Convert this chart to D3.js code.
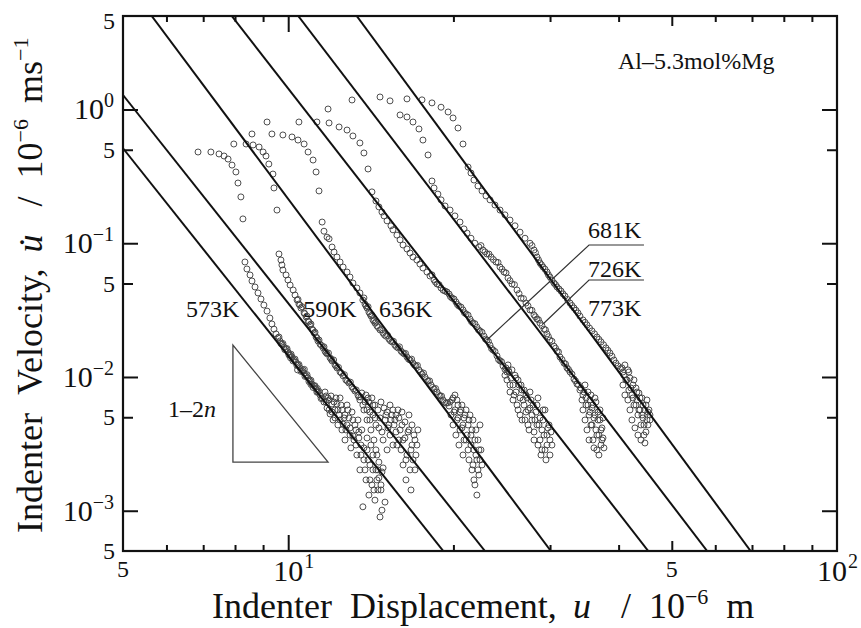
<!DOCTYPE html>
<html>
<head>
<meta charset="utf-8">
<script src="https://cdn.jsdelivr.net/npm/d3@7"></script>
<style>
  body { margin: 0; background: #fff; }
  text { font-family: "Liberation Serif", "Times New Roman", serif; fill: #111; }
</style>
</head>
<body>
<svg id="chart" width="861" height="628"></svg>
<script>
// Indenter velocity vs. displacement, Al-5.3mol%Mg, log-log
// Each series: [displacement u (1e-6 m), velocity (1e-6 m/s)]
const s573 = [
  [6.85,0.481],[7.23,0.481],[7.48,0.465],[7.64,0.449],[7.77,0.426],[7.90,0.384],[8.03,0.341],[8.10,0.282],[8.20,0.222],[8.27,0.152],
  [8.34,0.0724],[8.41,0.0642],[8.52,0.0579],[8.59,0.0522],[8.70,0.0471],[8.81,0.0425],[8.92,0.0383],[9.03,0.0345],[9.15,0.0311],
  [9.26,0.0276],[9.34,0.0249],[9.42,0.0228],[9.50,0.0210],[9.58,0.0196],[9.66,0.0186],[9.74,0.0176],[9.82,0.0168],[9.91,0.0162],
  [9.99,0.0154],[10.08,0.0146],[10.16,0.0141],[10.25,0.0134],[10.33,0.0129],[10.42,0.0123],[10.51,0.0117],[10.60,0.0111],
  [10.69,0.0107],[10.78,0.0102],[10.87,0.00982],[10.96,0.00933],[11.05,0.00886],[11.15,0.00856],[11.24,0.00813],[11.33,0.00772],
  [11.43,0.00733],[11.53,0.00697],
  [9.62,0.0199],[9.70,0.0178],[9.78,0.0178],[9.86,0.0160],[9.95,0.0163],[10.03,0.0146],[10.12,0.0148],[10.20,0.0132],[10.29,0.0136],
  [10.37,0.0122],[10.46,0.0124],[10.55,0.0110],[10.64,0.0113],[10.73,0.0101],[10.82,0.0104],[10.91,0.00925],[11.00,0.00945],
  [11.10,0.00835],[11.19,0.00860],[11.28,0.00770],[11.38,0.00780],[11.48,0.00690],[10.40,0.0113],[10.70,0.0114],[11.00,0.00880],
  [11.30,0.00820],[10.10,0.0139],
  [11.62,0.00650],[11.72,0.00721],[11.77,0.00586],[11.87,0.00673],[11.92,0.00529],[12.02,0.00628],[12.07,0.00477],[12.17,0.00567],
  [12.22,0.00697],[12.32,0.00438],[12.38,0.00520],[12.48,0.00617],[12.53,0.00402],[12.64,0.00494],[12.69,0.00338],[12.80,0.00438],
  [12.85,0.00567],[12.96,0.00368],[13.01,0.00295],[13.12,0.00477],[13.18,0.00338],[13.29,0.00402],[13.34,0.00261],[13.45,0.00350],
  [13.51,0.00202],[13.57,0.00310],[13.68,0.00107],[13.74,0.00240],[13.86,0.00170],[13.92,0.00285],[14.03,0.00131],[14.09,0.00220],
  [14.21,0.00156],[14.27,0.00261],[14.39,0.00120],[14.45,0.00202],[14.57,0.00143],[14.63,0.00176],[14.70,0.000898],[14.82,0.00195],
  [11.67,0.00772],[11.72,0.00650],[11.82,0.00697],[11.87,0.00567],[11.97,0.00721],[12.02,0.00547],[12.12,0.00650],[12.17,0.00494],
  [12.27,0.00628],[12.32,0.00567],[12.43,0.00477],[12.43,0.00697],[12.53,0.00567],[12.59,0.00445],[12.69,0.00520],[12.74,0.00402],
  [12.80,0.00617],[12.90,0.00494],[12.96,0.00416],[13.07,0.00547],[13.12,0.00362],[13.23,0.00438],[13.29,0.00310],[13.40,0.00477],
  [13.45,0.00388],[13.57,0.00261],[13.62,0.00402],[13.74,0.00295],[13.80,0.00202],[13.92,0.00350],[13.98,0.00240],[14.09,0.00170],
  [14.15,0.00310],[14.27,0.00202],[14.33,0.00143],[14.45,0.00285],[14.51,0.00170],[14.63,0.00231],[14.76,0.00156],[14.89,0.00209]
];
const s590 = [
  [7.96,0.552],[8.38,0.552],[8.59,0.656],[8.63,0.543],[8.85,0.524],[9.00,0.481],[9.11,0.449],[9.22,0.391],[9.38,0.329],[9.42,0.259],[9.54,0.177],
  [9.62,0.0831],[9.70,0.0749],[9.74,0.0688],[9.78,0.0631],[9.91,0.0579],[9.99,0.0531],[10.08,0.0487],[10.21,0.0447],[10.29,0.0410],
  [10.38,0.0376],[10.46,0.0351],[10.55,0.0328],[10.69,0.0301],[10.78,0.0281],[10.87,0.0262],[10.96,0.0245],[11.05,0.0228],
  [11.15,0.0213],[11.24,0.0199],[11.33,0.0186],[11.43,0.0176],[11.58,0.0165],[11.67,0.0156],[11.77,0.0149],[11.92,0.0139],
  [12.02,0.0132],[12.17,0.0123],[12.27,0.0117],[12.43,0.0109],[12.59,0.0102],[12.74,0.00950],[12.90,0.00902],[13.07,0.00842],
  [13.23,0.00786],[13.40,0.00733],
  [10.42,0.0380],[10.50,0.0345],[10.60,0.0335],[10.72,0.0297],[10.82,0.0285],[10.91,0.0258],[11.00,0.0249],[11.10,0.0224],
  [11.19,0.0216],[11.28,0.0196],[11.38,0.0189],[11.50,0.0172],[11.62,0.0168],[11.72,0.0152],[11.84,0.0151],[11.97,0.0136],
  [12.10,0.0134],[12.22,0.0121],[12.35,0.0118],[12.50,0.0107],[12.66,0.0104],[12.82,0.00930],[12.98,0.00915],[13.15,0.00815],
  [13.30,0.00800],[13.45,0.00710],
  [13.51,0.00673],[13.62,0.00759],[13.74,0.00567],[13.80,0.00650],[13.92,0.00477],[13.98,0.00697],[14.09,0.00547],[14.15,0.00402],
  [14.27,0.00617],[14.33,0.00338],[14.39,0.00494],[14.51,0.00261],[14.57,0.00202],[14.63,0.00416],[14.76,0.00143],[14.82,0.00101],
  [14.89,0.00338],[15.01,0.00116],[15.07,0.00520],[15.14,0.00285],[15.26,0.00438],[15.33,0.00368],[15.46,0.00520],[15.52,0.00310],
  [15.65,0.00477],[15.72,0.00388],[15.85,0.00567],[15.91,0.00338],[16.06,0.00285],[16.12,0.00438],[16.19,0.00220],[16.32,0.00350],
  [16.39,0.00170],[16.46,0.00261],[16.60,0.00402],[16.67,0.00202],[16.74,0.00143],[16.81,0.00310],[16.88,0.00240],[17.02,0.00338],
  [17.09,0.00261],
  [13.57,0.00709],[13.68,0.00617],[13.86,0.00733],[13.92,0.00567],[14.03,0.00650],[14.09,0.00477],[14.21,0.00697],[14.27,0.00520],
  [14.39,0.00617],[14.45,0.00438],[14.57,0.00567],[14.70,0.00494],[14.76,0.00650],[14.82,0.00388],[14.95,0.00586],[15.01,0.00477],
  [15.14,0.00547],[15.20,0.00416],[15.33,0.00617],[15.39,0.00477],[15.52,0.00567],[15.59,0.00438],[15.72,0.00520],[15.78,0.00310],
  [15.91,0.00494],[15.99,0.00402],[16.12,0.00547],[16.19,0.00338],[16.32,0.00461],[16.39,0.00240],[16.53,0.00388],[16.60,0.00520],
  [16.74,0.00285],[16.81,0.00438],[16.95,0.00368],[17.02,0.00202],[17.16,0.00310],[17.23,0.00402]
];
const s636 = [
  [9.15,0.806],[9.34,0.656],[9.78,0.645],[10.16,0.623],[10.42,0.591],[10.69,0.552],[10.87,0.481],[11.10,0.419],[11.24,0.341],[11.38,0.246],
  [11.53,0.144],[11.62,0.123],[11.77,0.111],[11.87,0.108],[12.02,0.0937],[12.12,0.0860],[12.27,0.0789],[12.43,0.0724],[12.59,0.0664],
  [12.80,0.0609],[12.96,0.0559],[13.12,0.0504],[13.34,0.0463],[13.51,0.0425],[13.68,0.0376],[13.80,0.0351],[13.92,0.0328],
  [14.03,0.0306],[14.15,0.0286],[14.27,0.0267],[14.39,0.0253],[14.51,0.0241],[14.70,0.0225],[14.89,0.0213],[15.07,0.0202],
  [15.26,0.0192],[15.46,0.0183],[15.65,0.0173],[15.85,0.0165],[16.06,0.0156],[16.26,0.0149],[16.46,0.0141],[16.67,0.0134],
  [16.88,0.0127],[17.09,0.0121],[17.31,0.0113],[17.53,0.0105],[17.75,0.00999],[17.98,0.00933],[18.21,0.00871],[18.44,0.00813],
  [18.67,0.00772],[18.91,0.00721],[19.15,0.00673],[19.39,0.00639],[19.64,0.00607],
  [13.74,0.0390],[13.86,0.0340],[13.98,0.0335],[14.09,0.0297],[14.21,0.0290],[14.33,0.0262],[14.45,0.0258],[14.60,0.0234],
  [14.80,0.0226],[14.98,0.0206],[15.17,0.0205],[15.36,0.0186],[15.55,0.0185],[15.75,0.0168],[15.95,0.0168],[16.16,0.0152],
  [16.36,0.0150],[16.57,0.0136],[16.78,0.0136],[16.98,0.0123],[17.20,0.0122],[17.42,0.0109],[17.64,0.0107],[17.86,0.00955],
  [18.10,0.00935],[18.32,0.00835],[18.56,0.00820],[18.79,0.00735],[19.03,0.00720],[19.27,0.00650],[19.52,0.00640],
  [19.89,0.00673],[20.05,0.00547],[20.13,0.00733],[20.30,0.00477],[20.39,0.00617],[20.56,0.00402],[20.65,0.00567],[20.82,0.00438],
  [20.91,0.00338],[21.00,0.00520],[21.18,0.00368],[21.27,0.00285],[21.35,0.00477],[21.53,0.00310],[21.62,0.00402],[21.71,0.00220],
  [21.80,0.00170],[21.89,0.00338],[21.98,0.00261],[22.07,0.00131],[22.17,0.00202],[22.26,0.00285],[22.36,0.00240],
  [19.72,0.00650],[19.80,0.00520],[19.97,0.00697],[19.97,0.00438],[20.13,0.00567],[20.21,0.00368],[20.30,0.00673],[20.39,0.00494],
  [20.47,0.00310],[20.56,0.00547],[20.73,0.00416],[20.73,0.00617],[20.82,0.00261],[20.91,0.00494],[21.09,0.00338],[21.09,0.00567],
  [21.27,0.00438],[21.35,0.00240],[21.44,0.00520],[21.53,0.00368],[21.62,0.00202],[21.71,0.00477],[21.80,0.00285],[21.89,0.00156],
  [21.98,0.00402],[22.07,0.00240],[22.17,0.00338],[22.26,0.00185],[22.36,0.00438],[22.45,0.00285],[22.55,0.00220]
];
const s681 = [
  [10.46,0.806],[11.28,0.806],[11.82,1.008],[11.87,0.793],[12.38,0.740],[12.80,0.702],[13.12,0.634],[13.51,0.562],[13.74,0.473],[13.98,0.359],
  [14.21,0.242],[14.45,0.207],[14.63,0.187],[14.82,0.171],[14.95,0.160],[15.14,0.147],[15.39,0.135],[15.52,0.126],[15.78,0.115],
  [15.99,0.106],[16.19,0.0970],[16.46,0.0906],[16.67,0.0845],[16.88,0.0789],[17.16,0.0749],[17.38,0.0699],[17.60,0.0653],
  [17.90,0.0609],[18.13,0.0569],[18.44,0.0531],[18.67,0.0496],[18.99,0.0463],[19.31,0.0439],[19.64,0.0417],[19.89,0.0389],
  [20.21,0.0364],[20.47,0.0339],[20.82,0.0317],[21.09,0.0296],[21.44,0.0271],[21.71,0.0253],[22.07,0.0236],[22.36,0.0221],
  [22.74,0.0202],[23.02,0.0189],[23.32,0.0173],[23.62,0.0159],[24.01,0.0144],[24.32,0.0132],[24.63,0.0121],[25.04,0.0109],
  [18.28,0.0580],[18.55,0.0512],[18.83,0.0490],[19.15,0.0446],[19.47,0.0432],[19.76,0.0398],[20.05,0.0383],[20.34,0.0348],
  [20.65,0.0333],[20.95,0.0302],[21.27,0.0290],[21.58,0.0259],[21.89,0.0250],[22.22,0.0225],[22.55,0.0216],[22.88,0.0192],
  [23.17,0.0184],[23.47,0.0163],[23.81,0.0155],[24.17,0.0135],[24.48,0.0130],[24.83,0.0114],[25.20,0.0112],
  [24.83,0.0103],[25.15,0.0123],[25.36,0.00871],[25.57,0.0113],[25.79,0.00733],[26.01,0.00982],[26.12,0.00617],[26.34,0.00871],
  [26.45,0.00520],[26.67,0.00799],[26.79,0.00673],[27.01,0.00477],[27.12,0.00733],[27.35,0.00567],[27.47,0.00402],[27.70,0.00673],
  [27.81,0.00520],[28.05,0.00338],[28.16,0.00477],[28.40,0.00617],[28.52,0.00310],[28.64,0.00438],[28.88,0.00261],[29.00,0.00402],
  [29.13,0.00567],[29.37,0.00285],[29.49,0.00240],[29.62,0.00368],[29.87,0.00438],[29.99,0.00338],
  [24.93,0.0117],[25.04,0.00950],[25.25,0.0109],[25.36,0.00772],[25.47,0.00982],[25.68,0.00871],[25.68,0.00673],[25.90,0.0103],
  [26.01,0.00772],[26.23,0.00950],[26.23,0.00567],[26.45,0.00697],[26.56,0.00871],[26.67,0.00477],[26.90,0.00617],[26.90,0.00799],
  [27.12,0.00547],[27.24,0.00697],[27.35,0.00438],[27.58,0.00586],[27.58,0.00772],[27.81,0.00477],[27.93,0.00617],[28.05,0.00388],
  [28.28,0.00547],[28.40,0.00438],[28.52,0.00697],[28.76,0.00494],[28.76,0.00338],[29.00,0.00285],[29.13,0.00477],[29.25,0.00368],
  [29.37,0.00567],[29.62,0.00310],[29.74,0.00416],[29.99,0.00261],[30.12,0.00388],[30.24,0.00310]
];
const s726 = [
  [13.07,1.178],[14.70,1.24],[15.33,1.16],[15.99,0.910],[16.46,0.879],[16.88,0.806],[17.31,0.715],[17.60,0.591],[17.98,0.457],
  [18.28,0.292],[18.44,0.259],[18.74,0.233],[18.99,0.211],[19.31,0.190],[19.72,0.177],[20.13,0.160],[20.56,0.144],[20.91,0.128],
  [21.18,0.119],[21.53,0.109],[21.89,0.100],[22.26,0.0937],[22.64,0.0890],[23.02,0.0831],[23.42,0.0789],[23.91,0.0724],
  [24.32,0.0664],[24.73,0.0609],[25.15,0.0550],[25.57,0.0496],[26.12,0.0447],[26.56,0.0389],[27.12,0.0357],[27.58,0.0317],
  [28.05,0.0291],[28.40,0.0271],[28.76,0.0253],[29.25,0.0228],[29.62,0.0210],[29.99,0.0189],[30.50,0.0170],[30.89,0.0156],
  [31.28,0.0141],[31.81,0.0127],[32.21,0.0117],[32.62,0.0109],[33.17,0.00965],[33.59,0.00886],[34.01,0.00799],
  [22.45,0.0960],[22.83,0.0862],[23.22,0.0830],[23.65,0.0755],[24.12,0.0718],[24.52,0.0640],[24.94,0.0600],[25.36,0.0525],
  [25.84,0.0490],[26.34,0.0420],[26.84,0.0385],[27.35,0.0340],[27.81,0.0315],[28.22,0.0282],[28.58,0.0268],[29.00,0.0242],
  [29.43,0.0225],[29.80,0.0200],[30.24,0.0185],[30.70,0.0164],[31.08,0.0154],[31.54,0.0135],[32.01,0.0125],[32.41,0.0114],
  [32.89,0.0105],[33.38,0.00935],[33.80,0.00875],
  [34.44,0.00733],[34.74,0.00871],[34.89,0.00617],[35.18,0.00772],[35.33,0.00520],[35.47,0.00673],[35.62,0.00438],[35.77,0.00586],
  [35.92,0.00338],[36.07,0.00494],[36.22,0.00697],[36.37,0.00402],[36.52,0.00285],[36.68,0.00547],[36.83,0.00368],[36.99,0.00477],
  [37.15,0.00310],[37.30,0.00416],[37.46,0.00350],
  [34.16,0.00827],[34.30,0.00673],[34.44,0.00567],[34.59,0.00772],[34.74,0.00477],[34.89,0.00697],[35.03,0.00402],[35.18,0.00617],
  [35.33,0.00338],[35.47,0.00547],[35.62,0.00733],[35.77,0.00438],[35.92,0.00617],[36.07,0.00295],[36.22,0.00520],[36.37,0.00650],
  [36.52,0.00368],[36.68,0.00477],[36.83,0.00261],[36.99,0.00567],[37.15,0.00402],[37.30,0.00338],[37.46,0.00494],[37.61,0.00295]
];
const s773 = [
  [16.46,1.20],[17.53,1.18],[18.28,1.12],[18.99,1.04],[19.56,0.958],[19.97,0.864],[20.39,0.727],[20.82,0.552],
  [21.27,0.371],[21.53,0.335],[21.80,0.297],[22.17,0.268],[22.55,0.246],[22.93,0.226],[23.32,0.211],[23.81,0.193],[24.32,0.177],
  [24.83,0.163],[25.36,0.149],[25.90,0.135],[26.45,0.121],[27.01,0.109],[27.58,0.100],[28.05,0.0890],[28.40,0.0789],[28.76,0.0712],
  [29.13,0.0664],[29.62,0.0609],[29.99,0.0559],[30.50,0.0504],[30.89,0.0471],[31.41,0.0439],[31.94,0.0403],[32.62,0.0357],
  [33.17,0.0328],[33.73,0.0301],[34.44,0.0267],[35.03,0.0245],[35.77,0.0221],[36.52,0.0199],[37.15,0.0183],[37.93,0.0165],
  [38.57,0.0151],[39.22,0.0134],[39.89,0.0121],[40.73,0.0109],
  [27.81,0.0960],[28.22,0.0850],[28.58,0.0750],[28.94,0.0690],[29.37,0.0640],[29.80,0.0580],[30.24,0.0530],[30.70,0.0490],
  [31.15,0.0455],[31.68,0.0418],[32.28,0.0380],[32.89,0.0342],[33.45,0.0315],[34.01,0.0285],[34.74,0.0256],[35.40,0.0232],
  [36.15,0.0210],[36.83,0.0191],[37.55,0.0174],[38.25,0.0158],[38.90,0.0143],[39.55,0.0127],[40.30,0.0115],
  [41.07,0.0123],[41.24,0.00950],[41.59,0.0113],[41.76,0.00799],[41.95,0.00982],[42.30,0.00733],[42.48,0.00871],[42.66,0.00617],
  [43.02,0.00827],[43.20,0.00673],[43.38,0.00520],[43.56,0.00759],[43.75,0.00567],[43.93,0.00438],[44.12,0.00697],[44.31,0.00494],
  [44.49,0.00368],[44.67,0.00321],[44.86,0.00617],[45.05,0.00477],[45.24,0.00547],[45.62,0.00520],
  [40.56,0.0117],[40.73,0.00871],[40.90,0.0103],[41.07,0.00733],[41.42,0.00950],[41.59,0.00673],[41.76,0.0109],[41.95,0.00567],
  [42.12,0.00827],[42.30,0.00477],[42.48,0.00697],[42.66,0.00950],[42.84,0.00416],[43.02,0.00617],[43.20,0.00772],[43.38,0.00368],
  [43.56,0.00567],[43.75,0.00697],[43.93,0.00338],[44.12,0.00520],[44.31,0.00617],[44.49,0.00438],[44.67,0.00567],[44.86,0.00388],
  [45.05,0.00673],[45.24,0.00438],[45.43,0.00567],[45.62,0.00477]
];

// Power-law fit lines, each given by two end points [u, velocity]
const fit573 = [[5, 0.513], [19.17, 5e-4]];
const fit590 = [[5, 1.283], [22.83, 5e-4]];
const fit636 = [[5.64, 5], [30.1, 5e-4]];
const fit681 = [[7.89, 5], [45.3, 5e-4]];
const fit726 = [[10.43, 5], [58.0, 5e-4]];
const fit773 = [[13.33, 5], [69.6, 5e-4]];

// Slope triangle (1-2n)
const slopeTriangle = [[7.93, 0.0173], [7.93, 0.00231], [11.82, 0.00231]];

// Tick values
const xTicksMinor = [6, 7, 8, 9, 20, 30, 40, 60, 70, 80, 90];
const xTicksMid = [50];
const xTicksMajor = [10];
const yTicksMajor = [1e-3, 1e-2, 1e-1, 1];
const yTicksMid = [5e-3, 5e-2, 5e-1];
const xLabelsPow = [[10, "1"], [100, "2"]];
const xLabelsFive = [5, 50];
const yLabelsPow = [[1, "0"], [0.1, "\u22121"], [0.01, "\u22122"], [0.001, "\u22123"]];
const yLabelsFive = [5, 0.5, 0.05, 0.005, 0.0005];

const series = [
  { name: "573K", pts: s573, fit: fit573 },
  { name: "590K", pts: s590, fit: fit590 },
  { name: "636K", pts: s636, fit: fit636 },
  { name: "681K", pts: s681, fit: fit681 },
  { name: "726K", pts: s726, fit: fit726 },
  { name: "773K", pts: s773, fit: fit773 }
];

const svg = d3.select("#chart");
const L = 123, R = 837, T = 16, B = 551;
const x = d3.scaleLog().domain([5, 100]).range([L, R]);
const y = d3.scaleLog().domain([5e-4, 5]).range([B, T]);

svg.append("defs").append("clipPath").attr("id", "plotClip")
  .append("rect").attr("x", L).attr("y", T).attr("width", R - L).attr("height", B - T);

const plot = svg.append("g").attr("clip-path", "url(#plotClip)");

// scatter points
series.forEach(s => {
  plot.append("g").selectAll("circle").data(s.pts).join("circle")
    .attr("cx", d => x(d[0])).attr("cy", d => y(d[1])).attr("r", 3)
    .attr("fill", "none").attr("stroke", "#444").attr("stroke-width", 0.95);
});

// fit lines
const lineGen = d3.line().x(d => x(d[0])).y(d => y(d[1]));
series.forEach(s => {
  plot.append("path").attr("d", lineGen(s.fit))
    .attr("fill", "none").attr("stroke", "#111").attr("stroke-width", 2);
});

// slope triangle
plot.append("path").attr("d", lineGen(slopeTriangle) + "Z")
  .attr("fill", "none").attr("stroke", "#444").attr("stroke-width", 1.3);

// frame
svg.append("rect").attr("x", L).attr("y", T).attr("width", R - L).attr("height", B - T)
  .attr("fill", "none").attr("stroke", "#111").attr("stroke-width", 2.2);

// inward ticks on all four sides
function ticks(axisFn, scale, values, len, tx, ty) {
  const a = axisFn(scale).tickValues(values).tickSizeInner(-len).tickSizeOuter(0).tickFormat("");
  const g = svg.append("g").attr("transform", `translate(${tx},${ty})`).call(a);
  g.select(".domain").remove();
  g.selectAll(".tick line").attr("stroke", "#111").attr("stroke-width", 2);
}
ticks(d3.axisBottom, x, xTicksMinor, 6, 0, B);
ticks(d3.axisBottom, x, xTicksMid, 10, 0, B);
ticks(d3.axisBottom, x, xTicksMajor, 16, 0, B);
ticks(d3.axisTop, x, xTicksMinor, 6, 0, T);
ticks(d3.axisTop, x, xTicksMid, 10, 0, T);
ticks(d3.axisTop, x, xTicksMajor, 16, 0, T);
ticks(d3.axisLeft, y, yTicksMajor, 15, L, 0);
ticks(d3.axisLeft, y, yTicksMid, 10, L, 0);
ticks(d3.axisRight, y, yTicksMajor, 15, R, 0);
ticks(d3.axisRight, y, yTicksMid, 10, R, 0);

// tick labels
const tickPowSize = 30, tickSupSize = 20, tickFiveSize = 24;
yLabelsFive.forEach(v => {
  const yy = v === 5 ? y(v) + 13 : y(v) + 8;
  svg.append("text").attr("x", 115).attr("y", yy).attr("text-anchor", "end")
    .style("font-size", tickFiveSize + "px").text("5");
});
yLabelsPow.forEach(([v, p]) => {
  const t = svg.append("text").attr("x", 114).attr("y", y(v) + 10).attr("text-anchor", "end")
    .style("font-size", tickPowSize + "px");
  t.append("tspan").text("10");
  t.append("tspan").attr("dy", -12).style("font-size", tickSupSize + "px").text(p);
});
xLabelsFive.forEach(v => {
  svg.append("text").attr("x", x(v)).attr("y", 577).attr("text-anchor", "middle")
    .style("font-size", tickFiveSize + "px").text("5");
});
xLabelsPow.forEach(([v, p]) => {
  // keep the right-most label inside the canvas
  const cx = Math.min(x(v), 832);
  const base = svg.append("text").attr("x", cx).attr("y", 581).attr("text-anchor", "middle")
    .style("font-size", tickPowSize + "px").text("10");
  const w = base.node().getComputedTextLength();
  svg.append("text").attr("x", cx + w / 2 + 1).attr("y", 568)
    .style("font-size", tickSupSize + "px").text(p);
});

// axis titles
const titleSize = 36;
function title(parts, tx, ty, rot) {
  const t = svg.append("text").attr("transform", `translate(${tx},${ty}) rotate(${rot})`)
    .style("font-size", titleSize + "px");
  parts.forEach(p => {
    const ts = t.append("tspan").text(p.t);
    if (p.dx) ts.attr("dx", p.dx);
    if (p.dy) ts.attr("dy", p.dy);
    if (p.sup) ts.style("font-size", "22px");
    if (p.it) ts.style("font-style", "italic");
  });
}
title([
  { t: "Indenter" }, { t: "Velocity,", dx: 18 }, { t: "u\u0307", dx: 16, it: true },
  { t: "/", dx: 28 }, { t: "10", dx: 18 }, { t: "\u22126", dy: -14, sup: true },
  { t: "ms", dx: 16, dy: 14 }, { t: "\u22121", dy: -14, sup: true }
], 42, 533, -90);
title([
  { t: "Indenter" }, { t: "Displacement,", dx: 18 }, { t: "u", dx: 16, it: true },
  { t: "/", dx: 30 }, { t: "10", dx: 18 }, { t: "\u22126", dy: -14, sup: true },
  { t: "m", dx: 18, dy: 14 }
], 212, 618, 0);

// annotations
const annoSize = 24;
const tempLabels = [
  { t: "573K", u: 6.51, v: 0.0281 },
  { t: "590K", u: 10.65, v: 0.0281 },
  { t: "636K", u: 14.63, v: 0.0281 },
  { t: "681K", u: 35.18, v: 0.1094 },
  { t: "726K", u: 35.18, v: 0.0559 },
  { t: "773K", u: 35.18, v: 0.0286 }
];
tempLabels.forEach(d => {
  svg.append("text").attr("x", x(d.u)).attr("y", y(d.v)).style("font-size", annoSize + "px").text(d.t);
});
// leader lines for 681K and 726K
const leaders = [
  [[23.02, 0.0189], [35.33, 0.0970], [44.49, 0.0970]],
  [[29.13, 0.0249], [35.33, 0.0531], [44.49, 0.0531]]
];
leaders.forEach(l => {
  svg.append("path").attr("d", lineGen(l)).attr("fill", "none").attr("stroke", "#333").attr("stroke-width", 1.2);
});

svg.append("text").attr("x", x(39.89)).attr("y", y(2.0)).style("font-size", annoSize + "px").text("Al\u20135.3mol%Mg");
const sl = svg.append("text").attr("x", x(6.04)).attr("y", y(0.00502)).style("font-size", annoSize + "px");
sl.append("tspan").text("1\u20132");
sl.append("tspan").style("font-style", "italic").text("n");
</script>
</body>
</html>
